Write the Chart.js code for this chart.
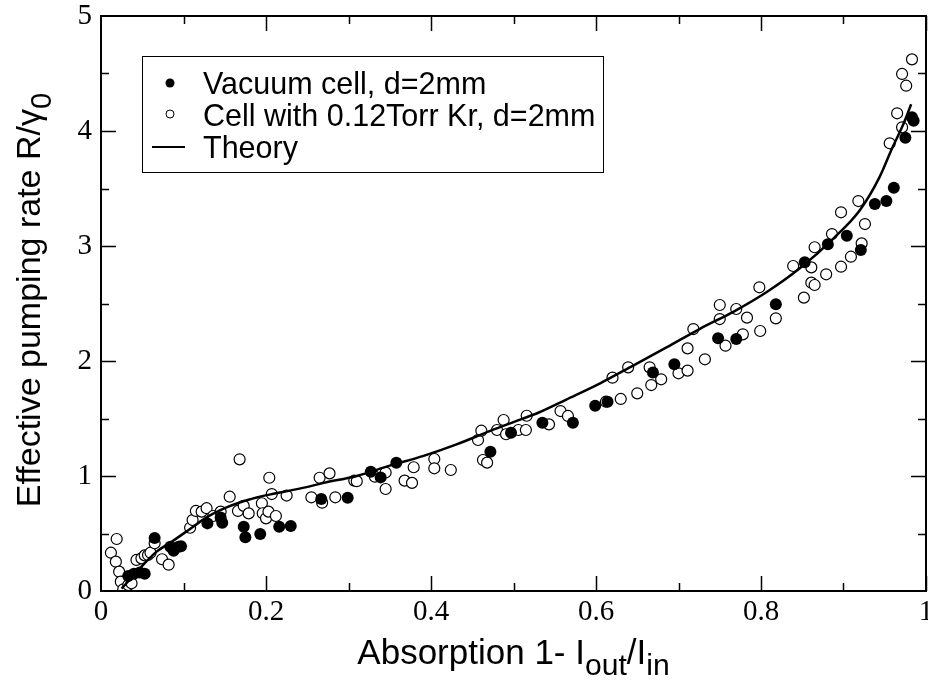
<!DOCTYPE html>
<html>
<head>
<meta charset="utf-8">
<script src="https://cdn.jsdelivr.net/npm/chart.js@4.4.1/dist/chart.umd.min.js"></script>
<style>
  html, body { margin: 0; padding: 0; background: #fff; }
  #wrap { width: 928px; height: 685px; }
</style>
</head>
<body>
<div id="wrap"><canvas id="chart" width="928" height="685"></canvas></div>
<script>
// Vacuum cell, d=2mm (filled)
const vacuumX = [0.033, 0.040, 0.047, 0.053, 0.065, 0.084, 0.088, 0.094, 0.097,
  0.129, 0.145, 0.147, 0.173, 0.175, 0.193, 0.216, 0.230,
  0.267, 0.299, 0.327, 0.339, 0.358, 0.472, 0.497,
  0.535, 0.572, 0.599, 0.614, 0.669, 0.695, 0.748,
  0.770, 0.818, 0.853, 0.881, 0.904, 0.921, 0.938, 0.952, 0.961,
  0.975, 0.983, 0.985];
const vacuumY = [0.13, 0.15, 0.16, 0.15, 0.46, 0.385, 0.35, 0.385, 0.39,
  0.588, 0.64, 0.594, 0.559, 0.467, 0.496, 0.559, 0.565,
  0.80, 0.811, 1.037, 0.988, 1.116, 1.211, 1.376,
  1.464, 1.464, 1.611, 1.646, 1.899, 1.971, 2.197,
  2.191, 2.493, 2.858, 3.015, 3.09, 2.965, 3.365, 3.391, 3.507,
  3.942, 4.119, 4.09];

// Cell with 0.12Torr Kr, d=2mm (open)
const kryptonX = [0.012, 0.019, 0.018, 0.022, 0.024, 0.027, 0.033, 0.037, 0.043, 0.049,
  0.053, 0.057, 0.060, 0.065, 0.074, 0.082, 0.108, 0.111, 0.115, 0.122,
  0.128, 0.136, 0.145, 0.156, 0.168, 0.166, 0.173, 0.179, 0.195, 0.196,
  0.200, 0.204, 0.207, 0.203, 0.212, 0.225,
  0.255, 0.265, 0.268, 0.277, 0.284, 0.307, 0.310, 0.332, 0.345, 0.345,
  0.368, 0.377, 0.379, 0.404, 0.404, 0.424, 0.457, 0.461, 0.463, 0.468,
  0.480, 0.488, 0.491,
  0.506, 0.515, 0.516, 0.543, 0.557, 0.566, 0.612, 0.620, 0.630, 0.639,
  0.650, 0.665, 0.667, 0.679, 0.700, 0.711, 0.711, 0.718, 0.732, 0.750,
  0.750, 0.757,
  0.770, 0.778, 0.783, 0.798, 0.799, 0.818, 0.839, 0.852, 0.861, 0.861,
  0.865, 0.865, 0.879, 0.886, 0.897, 0.897, 0.909, 0.918, 0.922, 0.926,
  0.956, 0.965, 0.971, 0.971, 0.976, 0.983];
const kryptonY = [0.333, 0.452, 0.255, 0.168, 0.081, 0.015, 0.052, 0.067, 0.27, 0.284,
  0.31, 0.313, 0.333, 0.415, 0.276, 0.229, 0.55, 0.617, 0.696, 0.69,
  0.72, 0.652, 0.69, 0.82, 1.145, 0.696, 0.74, 0.675, 0.763, 0.676,
  0.632, 0.985, 0.843, 0.69, 0.652, 0.83,
  0.815, 0.985, 0.768, 1.023, 0.815, 0.96, 0.955, 0.994, 1.03, 0.887,
  0.96, 0.94, 1.076, 1.148, 1.067, 1.052, 1.313, 1.394, 1.139, 1.116,
  1.40, 1.487, 1.363,
  1.40, 1.40, 1.524, 1.449, 1.565, 1.522, 1.646, 1.855, 1.67, 1.945,
  1.719, 1.945, 1.791, 1.841, 1.893, 1.916, 2.11, 2.278, 2.015, 2.487,
  2.365, 2.133,
  2.452, 2.232, 2.377, 2.641, 2.261, 2.371, 2.826, 2.551, 2.814, 2.681,
  2.661, 2.989, 2.754, 3.104, 2.82, 3.293, 2.907, 3.391, 3.023, 3.191,
  3.893, 4.154, 4.032, 4.496, 4.394, 4.623];

// Theory curve
const theoryX = [0.025, 0.045, 0.067, 0.086, 0.110, 0.128, 0.150, 0.168, 0.190, 0.209,
  0.230, 0.253, 0.270, 0.310, 0.350, 0.391, 0.431, 0.471, 0.508, 0.530,
  0.564, 0.605, 0.645, 0.686, 0.726, 0.767, 0.807, 0.847, 0.888, 0.920,
  0.944, 0.958, 0.973, 0.982];
const theoryY = [0.02, 0.18, 0.34, 0.43, 0.55, 0.64, 0.72, 0.77, 0.815, 0.845,
  0.875, 0.91, 0.94, 1.0, 1.09, 1.175, 1.275, 1.39, 1.49, 1.55,
  1.665, 1.806, 1.96, 2.12, 2.28, 2.43, 2.60, 2.806, 3.067, 3.313,
  3.603, 3.835, 4.067, 4.232];

const xTicks = [0, 0.2, 0.4, 0.6, 0.8, 1];
const yTicks = [0, 1, 2, 3, 4, 5];

const legendLabels = ['Vacuum cell, d=2mm', 'Cell with 0.12Torr Kr, d=2mm', 'Theory'];

function toPoints(xs, ys) {
  return xs.map((x, i) => ({ x: x, y: ys[i] }));
}

// frame with inward ticks on all four sides, legend and axis titles
const framePlugin = {
  id: 'frame',
  afterDraw(chart) {
    const ctx = chart.ctx;
    const a = chart.chartArea;
    const xs = chart.scales.x, ys = chart.scales.y;
    ctx.save();
    ctx.strokeStyle = '#000';
    ctx.lineWidth = 1.5;
    ctx.beginPath();
    for (let v = 0.1; v < 1; v += 0.1) {
      const major = Math.round(v * 10) % 2 === 0;
      const len = major ? 15 : 8;
      const px = Math.round(xs.getPixelForValue(v)) + 0.5;
      ctx.moveTo(px, a.bottom); ctx.lineTo(px, a.bottom - len);
      ctx.moveTo(px, a.top); ctx.lineTo(px, a.top + len);
    }
    for (let v = 0.5; v < 5; v += 0.5) {
      const major = Math.abs(v - Math.round(v)) < 1e-6;
      const len = major ? 15 : 8;
      const py = Math.round(ys.getPixelForValue(v)) + 0.5;
      ctx.moveTo(a.left, py); ctx.lineTo(a.left + len, py);
      ctx.moveTo(a.right, py); ctx.lineTo(a.right - len, py);
    }
    ctx.stroke();
    ctx.lineWidth = 2;
    ctx.strokeRect(a.left, a.top, a.right - a.left, a.bottom - a.top);

    // legend box
    ctx.lineWidth = 1;
    ctx.strokeRect(142.5, 56.5, 461, 116);
    ctx.font = '30.5px "Liberation Sans", Arial, sans-serif';
    ctx.fillStyle = '#000';
    ctx.textBaseline = 'alphabetic';
    ctx.textAlign = 'left';
    const rows = [94, 126, 158];
    ctx.beginPath();
    ctx.arc(170, 83, 4.5, 0, Math.PI * 2);
    ctx.fill();
    ctx.beginPath();
    ctx.arc(170, 114, 4, 0, Math.PI * 2);
    ctx.stroke();
    ctx.lineWidth = 2;
    ctx.beginPath();
    ctx.moveTo(152, 147); ctx.lineTo(185, 147);
    ctx.stroke();
    legendLabels.forEach((t, i) => ctx.fillText(t, 203, rows[i]));

    // axis titles with subscripts
    function runs(parts, x, y, size) {
      parts.forEach(p => {
        ctx.font = (p[1] ? size * 0.86 : size) + 'px "Liberation Sans", Arial, sans-serif';
        ctx.fillText(p[0], x, y + (p[1] ? 11 : 0));
        x += ctx.measureText(p[0]).width;
      });
    }
    function width(parts, size) {
      let w = 0;
      parts.forEach(p => {
        ctx.font = (p[1] ? size * 0.86 : size) + 'px "Liberation Sans", Arial, sans-serif';
        w += ctx.measureText(p[0]).width;
      });
      return w;
    }
    const xt = [['Absorption 1- I', false], ['out', true], ['/I', false], ['in', true]];
    runs(xt, (a.left + a.right) / 2 - width(xt, 35) / 2, 664, 35);
    const yt = [['Effective pumping rate R/\u03B3', false], ['0', true]];
    ctx.save();
    ctx.translate(40, 300);
    ctx.rotate(-Math.PI / 2);
    runs(yt, -width(yt, 34) / 2, 0, 34);
    ctx.restore();
    ctx.restore();
  }
};

new Chart(document.getElementById('chart').getContext('2d'), {
  type: 'scatter',
  data: {
    datasets: [
      {
        label: legendLabels[2],
        data: toPoints(theoryX, theoryY),
        showLine: true,
        borderColor: '#000',
        borderWidth: 2.5,
        pointRadius: 0,
        tension: 0.4,
        cubicInterpolationMode: 'monotone',
        order: 0
      },
      {
        label: legendLabels[1],
        data: toPoints(kryptonX, kryptonY),
        pointRadius: 5.5,
        pointBackgroundColor: '#fff',
        pointBorderColor: '#000',
        pointBorderWidth: 1.2,
        order: 2
      },
      {
        label: legendLabels[0],
        data: toPoints(vacuumX, vacuumY),
        pointRadius: 6,
        pointBackgroundColor: '#000',
        pointBorderColor: '#000',
        pointBorderWidth: 0,
        order: 1
      }
    ]
  },
  options: {
    responsive: false,
    animation: false,
    devicePixelRatio: 1,
    layout: { autoPadding: false, padding: { top: 16, right: 2, left: 0, bottom: 0 } },
    plugins: { legend: { display: false }, tooltip: { enabled: false } },
    scales: {
      x: {
        type: 'linear', min: 0, max: 1,
        afterFit(s) { s.height = 94; s.paddingLeft = 0; s.paddingRight = 0; },
        afterBuildTicks(s) { s.ticks = xTicks.map(v => ({ value: v })); },
        grid: { display: false, drawTicks: false },
        border: { display: false },
        ticks: {
          color: '#000', padding: 4, maxRotation: 0,
          font: { family: '"Liberation Serif", "Times New Roman", serif', size: 29 },
          callback: v => String(v)
        }
      },
      y: {
        type: 'linear', min: 0, max: 5,
        afterFit(s) { s.width = 101; s.paddingTop = 0; s.paddingBottom = 0; },
        afterBuildTicks(s) { s.ticks = yTicks.map(v => ({ value: v })); },
        grid: { display: false, drawTicks: false },
        border: { display: false },
        ticks: {
          color: '#000', padding: 9,
          font: { family: '"Liberation Serif", "Times New Roman", serif', size: 29 },
          callback: v => String(v)
        }
      }
    }
  },
  plugins: [framePlugin]
});
</script>
</body>
</html>
